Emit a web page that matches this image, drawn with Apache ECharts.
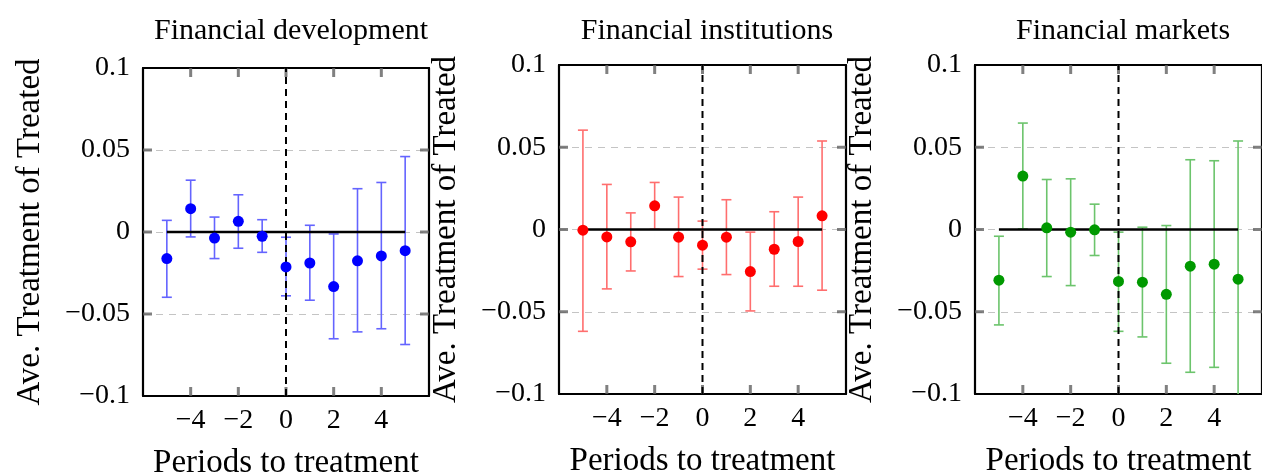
<!DOCTYPE html>
<html>
<head>
    <meta charset="utf-8">
    <title>Event study</title>
    <script src="https://cdn.jsdelivr.net/npm/echarts@6/dist/echarts.min.js"></script>
    <style>
        html, body { margin: 0; padding: 0; background: #fff; }
    </style>
</head>

<body>
    <div id="demo" style="width: 1262px;height:475px;"></div>
    <script type="text/javascript">
        // periods relative to treatment
        var periods = [-5, -4, -3, -2, -1, 0, 1, 2, 3, 4, 5];
        var panelTitles = ['Financial development', 'Financial institutions', 'Financial markets'];
        var xTickVals = [-4, -2, 0, 2, 4];
        var yTickVals = [-0.05, 0, 0.05];

        // Financial development
        var devEst = [-0.0162, 0.0142, -0.0037, 0.0065, -0.0026, -0.0213, -0.0189, -0.0333, -0.0176, -0.0146, -0.0114];
        var devLo  = [-0.0398, -0.0030, -0.0162, -0.0099, -0.0124, -0.0389, -0.0416, -0.0651, -0.0609, -0.0590, -0.0686];
        var devHi  = [0.0071, 0.0316, 0.0091, 0.0227, 0.0075, -0.0032, 0.0041, -0.0012, 0.0264, 0.0302, 0.0460];

        // Financial institutions
        var instEst = [-0.0004, -0.0045, -0.0075, 0.0144, -0.0047, -0.0095, -0.0047, -0.0256, -0.0120, -0.0073, 0.0083];
        var instLo  = [-0.0619, -0.0361, -0.0252, 0.0002, -0.0286, -0.0241, -0.0274, -0.0495, -0.0345, -0.0345, -0.0369];
        var instHi  = [0.0604, 0.0274, 0.0101, 0.0286, 0.0197, 0.0051, 0.0181, -0.0016, 0.0108, 0.0197, 0.0538];

        // Financial markets
        var mktEst = [-0.0308, 0.0325, 0.0010, -0.0016, -0.0002, -0.0316, -0.0320, -0.0394, -0.0223, -0.0211, -0.0302];
        var mktLo  = [-0.0580, 0.0004, -0.0286, -0.0341, -0.0158, -0.0619, -0.0653, -0.0813, -0.0868, -0.0838, -0.1140];
        var mktHi  = [-0.0041, 0.0647, 0.0304, 0.0308, 0.0154, -0.0016, 0.0014, 0.0024, 0.0424, 0.0418, 0.0538];

        var panels = [
            { est: devEst, lo: devLo, hi: devHi, color: '#0000ff', bar: '#6464ff', grid: { left: 143, top: 68, width: 286, height: 328 }, title: 286 },
            { est: instEst, lo: instLo, hi: instHi, color: '#ff0000', bar: '#ff6e6e', grid: { left: 559, top: 65, width: 287, height: 329 }, title: 702 },
            { est: mktEst, lo: mktLo, hi: mktHi, color: '#009900', bar: '#6cc46c', grid: { left: 975, top: 65, width: 287, height: 329 }, title: 1118 }
        ];

        var FONT = "'Liberation Serif', serif";
        var X_MIN = -6, X_MAX = 6, Y_MIN = -0.1, Y_MAX = 0.1;
        var TICK_COLOR = 'rgba(96, 96, 96, 0.8)';
        function minus(v) {
            return v < 0 ? '\u2212' + Math.abs(v) : String(v);
        }
        var frame = { show: true, onZero: false, lineStyle: { color: '#000', width: 2.2 } };

        var dom = document.getElementById('demo');
        var chart = echarts.init(dom);

        var option = {
            animation: false,
            backgroundColor: '#fff',
            title: [],
            grid: [],
            xAxis: [],
            yAxis: [],
            series: []
        };

        panels.forEach(function (p, i) {
            option.title.push({
                text: panelTitles[i],
                left: p.title,
                top: 11,
                textAlign: 'center',
                textStyle: { fontFamily: FONT, fontSize: 30, fontWeight: 'normal', color: '#000' }
            });
            option.grid.push({
                left: p.grid.left, top: p.grid.top, width: p.grid.width, height: p.grid.height,
                outerBoundsMode: 'none', containLabel: false
            });
            // bottom / top x axes
            option.xAxis.push({
                gridIndex: i, type: 'value', min: X_MIN, max: X_MAX, interval: 2,
                name: 'Periods to treatment', nameLocation: 'middle', nameGap: 51,
                nameTextStyle: { fontFamily: FONT, fontSize: 33, color: '#000' },
                axisLine: frame,
                axisTick: { show: false },
                splitLine: { show: false },
                axisLabel: { fontFamily: FONT, fontSize: 28, color: '#000', margin: 11,
                    showMinLabel: false, showMaxLabel: false, formatter: minus }
            });
            option.xAxis.push({
                gridIndex: i, type: 'value', min: X_MIN, max: X_MAX, interval: 2, position: 'top',
                axisLine: frame, axisTick: { show: false },
                splitLine: { show: false }, axisLabel: { show: false }
            });
            // left / right y axes
            option.yAxis.push({
                gridIndex: i, type: 'value', min: Y_MIN, max: Y_MAX, interval: 0.05,
                name: 'Ave. Treatment of Treated', nameLocation: 'middle', nameGap: 96,
                nameTextStyle: { fontFamily: FONT, fontSize: 33, color: '#000' },
                axisLine: frame,
                axisTick: { show: false },
                splitLine: { show: true, lineStyle: { color: '#c4c4c4', type: [7, 6], width: 1 } },
                axisLabel: { fontFamily: FONT, fontSize: 28, color: '#000', margin: 13, formatter: minus }
            });
            option.yAxis.push({
                gridIndex: i, type: 'value', min: Y_MIN, max: Y_MAX, interval: 0.05, position: 'right',
                axisLine: frame, axisTick: { show: false },
                splitLine: { show: false }, axisLabel: { show: false }
            });

            var xi = i * 2, yi = i * 2;

            // tick marks pointing into the frame, top edge
            option.series.push({
                type: 'custom', xAxisIndex: xi, yAxisIndex: yi,
                data: xTickVals.map(function (v) { return [v, Y_MAX]; }),
                renderItem: function (params, api) {
                    var c = api.coord([api.value(0), api.value(1)]);
                    return { type: 'line', shape: { x1: c[0], y1: c[1], x2: c[0], y2: c[1] + 9 },
                        style: { stroke: TICK_COLOR, lineWidth: 3 } };
                }
            });
            // bottom edge
            option.series.push({
                type: 'custom', xAxisIndex: xi, yAxisIndex: yi,
                data: xTickVals.map(function (v) { return [v, Y_MIN]; }),
                renderItem: function (params, api) {
                    var c = api.coord([api.value(0), api.value(1)]);
                    return { type: 'line', shape: { x1: c[0], y1: c[1], x2: c[0], y2: c[1] - 9 },
                        style: { stroke: TICK_COLOR, lineWidth: 3 } };
                }
            });
            // left edge
            option.series.push({
                type: 'custom', xAxisIndex: xi, yAxisIndex: yi,
                data: yTickVals.map(function (v) { return [X_MIN, v]; }),
                renderItem: function (params, api) {
                    var c = api.coord([api.value(0), api.value(1)]);
                    return { type: 'line', shape: { x1: c[0], y1: c[1], x2: c[0] + 9, y2: c[1] },
                        style: { stroke: TICK_COLOR, lineWidth: 3 } };
                }
            });
            // right edge
            option.series.push({
                type: 'custom', xAxisIndex: xi, yAxisIndex: yi,
                data: yTickVals.map(function (v) { return [X_MAX, v]; }),
                renderItem: function (params, api) {
                    var c = api.coord([api.value(0), api.value(1)]);
                    return { type: 'line', shape: { x1: c[0], y1: c[1], x2: c[0] - 9, y2: c[1] },
                        style: { stroke: TICK_COLOR, lineWidth: 3 } };
                }
            });

            // confidence intervals
            option.series.push({
                type: 'custom',
                xAxisIndex: xi, yAxisIndex: yi,
                clip: true,
                z: 1,
                data: periods.map(function (x, k) { return [x, p.lo[k], p.hi[k]]; }),
                renderItem: function (params, api) {
                    var lo = api.coord([api.value(0), api.value(1)]);
                    var hi = api.coord([api.value(0), api.value(2)]);
                    var w = 5;
                    var style = { stroke: p.bar, lineWidth: 1.6 };
                    return {
                        type: 'group',
                        children: [
                            { type: 'line', shape: { x1: lo[0], y1: lo[1], x2: hi[0], y2: hi[1] }, style: style },
                            { type: 'line', shape: { x1: lo[0] - w, y1: lo[1], x2: lo[0] + w, y2: lo[1] }, style: style },
                            { type: 'line', shape: { x1: hi[0] - w, y1: hi[1], x2: hi[0] + w, y2: hi[1] }, style: style }
                        ]
                    };
                }
            });
            // zero reference line
            option.series.push({
                type: 'line', xAxisIndex: xi, yAxisIndex: yi, z: 2,
                data: [[periods[0], 0], [periods[periods.length - 1], 0]],
                symbol: 'none', silent: true,
                lineStyle: { color: '#000', width: 2.5 }
            });
            // treatment date
            option.series.push({
                type: 'line', xAxisIndex: xi, yAxisIndex: yi, z: 2,
                data: [[0, Y_MIN], [0, Y_MAX]],
                symbol: 'none', silent: true,
                lineStyle: { color: '#000', width: 2, type: [7, 5] }
            });
            // point estimates
            option.series.push({
                type: 'scatter', xAxisIndex: xi, yAxisIndex: yi, z: 3,
                symbolSize: 11,
                itemStyle: { color: p.color, opacity: 1 },
                data: periods.map(function (x, k) { return [x, p.est[k]]; })
            });
        });

        chart.setOption(option);
    </script>
</body>
</html>
